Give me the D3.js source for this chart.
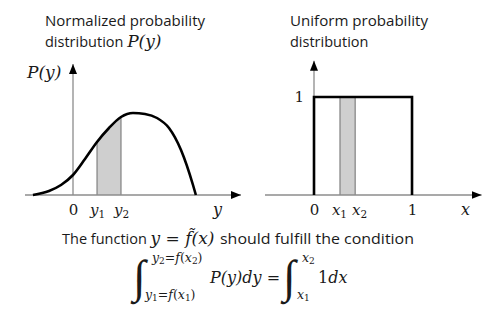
<!DOCTYPE html>
<html>
<head>
<meta charset="utf-8">
<script src="https://cdn.jsdelivr.net/npm/d3@7"></script>
<style>
body{margin:0;background:#fff}
svg{display:block}
text{font-family:"Open Sans",sans-serif;fill:#1a1a1a}
.m{font-family:"DejaVu Serif",serif;font-style:italic}
.n{font-family:"DejaVu Serif",serif;font-style:normal}
.int{font-family:"Liberation Serif",serif;font-style:normal}
</style>
</head>
<body>
<svg width="500" height="312"></svg>
<script>
// left panel: normalized probability P(y)
const curveY = [-1.67, -1, -0.5, 0, 0.5, 1, 1.5, 2, 2.5, 3, 3.5, 4, 4.5, 5, 5.12];
const curveP = [0, 0.04, 0.1, 0.2, 0.36, 0.53, 0.67, 0.78, 0.82, 0.81, 0.77, 0.67, 0.45, 0.1, 0];
const band = [1, 2];
const leftTicks = [0, 1, 2];
const leftTickNames = ["0", "y_1", "y_2"];

// right panel: uniform distribution
const uniX = [0, 0, 1, 1];
const uniP = [0, 1, 1, 0];
const strip = [0.265, 0.42];
const rightTicks = [0, 0.265, 0.42, 1];
const rightTickNames = ["0", "x_1", "x_2", "1"];

const svg = d3.select('svg');

svg.append('defs').append('marker')
  .attr('id', 'arr')
  .attr('viewBox', '0 0 10 8')
  .attr('refX', 10).attr('refY', 4)
  .attr('markerWidth', 10).attr('markerHeight', 8)
  .attr('markerUnits', 'userSpaceOnUse')
  .attr('orient', 'auto')
  .append('path').attr('d', 'M0,0L10,4L0,8Z').attr('fill', '#000');

// writes "y_1" as italic y with an upright subscript
function mathLabel(t, s, size){
  t.text(null);
  const parts = s.split('_');
  if(parts.length == 1){
    t.append('tspan').attr('class', 'n').text(parts[0]);
    return;
  }
  t.append('tspan').attr('class', 'm').text(parts[0]);
  t.append('tspan').attr('class', 'n').attr('font-size', size*0.7).attr('dy', 3).text(parts[1]);
}

// ---------- left ----------
const xL = d3.scaleLinear().domain([-2, 7]).range([25, 241]);
const pL = d3.scaleLinear().domain([0, 1.3]).range([195, 65]);
const pts = curveY.map((v, i) => [v, curveP[i]]);

svg.append('clipPath').attr('id', 'bandClip')
  .append('rect')
  .attr('x', xL(band[0])).attr('width', xL(band[1]) - xL(band[0]))
  .attr('y', 0).attr('height', 312);

const area = d3.area().x(d => xL(d[0])).y0(pL(0)).y1(d => pL(d[1])).curve(d3.curveMonotoneX);
svg.append('path').attr('d', area(pts)).attr('fill', '#cfcfcf').attr('clip-path', 'url(#bandClip)');

band.forEach(b => {
  const p = curveP[curveY.indexOf(b)];
  svg.append('line')
    .attr('x1', xL(b)).attr('x2', xL(b))
    .attr('y1', pL(0)).attr('y2', pL(p))
    .attr('stroke', '#6e6e6e').attr('stroke-width', 1);
});

svg.append('line').attr('x1', xL(-2)).attr('x2', xL(7)).attr('y1', pL(0)).attr('y2', pL(0))
  .attr('stroke', '#8c8c8c').attr('stroke-width', 1.3).attr('marker-end', 'url(#arr)');
svg.append('line').attr('x1', xL(0)).attr('x2', xL(0)).attr('y1', pL(0)).attr('y2', pL(1.31))
  .attr('stroke', '#8c8c8c').attr('stroke-width', 1.3).attr('marker-end', 'url(#arr)');

const line = d3.line().x(d => xL(d[0])).y(d => pL(d[1])).curve(d3.curveMonotoneX);
svg.append('path').attr('d', line(pts)).attr('fill', 'none')
  .attr('stroke', '#000').attr('stroke-width', 2.6).attr('stroke-linejoin', 'round');

const axL = svg.append('g').attr('transform', `translate(0,${pL(0)})`)
  .call(d3.axisBottom(xL).tickValues(leftTicks).tickSize(0).tickFormat((d, i) => leftTickNames[i]));
axL.select('.domain').remove();
axL.selectAll('text').attr('y', 20).attr('dy', 0).attr('font-size', 15)
  .each(function(d, i){ mathLabel(d3.select(this), leftTickNames[i], 15); });

svg.append('text').attr('class', 'm').attr('x', 213).attr('y', 215).attr('font-size', 16).text('y');
svg.append('text').attr('class', 'm').attr('x', 27).attr('y', 78).attr('font-size', 17).text('P(y)');

svg.append('text').attr('x', 45).attr('y', 26).attr('font-size', 14.5)
  .attr('textLength', 160).attr('lengthAdjust', 'spacingAndGlyphs').text('Normalized probability');
const t2 = svg.append('text').attr('x', 45).attr('y', 47).attr('font-size', 14.5);
t2.append('tspan').text('distribution ');
t2.append('tspan').attr('class', 'm').attr('font-size', 17).text('P(y)');

// ---------- right ----------
const xR = d3.scaleLinear().domain([-0.5, 1.71]).range([265, 481.6]);
const pR = d3.scaleLinear().domain([0, 1.36]).range([195, 61.7]);

svg.append('rect')
  .attr('x', xR(strip[0])).attr('width', xR(strip[1]) - xR(strip[0]))
  .attr('y', pR(1)).attr('height', pR(0) - pR(1))
  .attr('fill', '#cfcfcf');
strip.forEach(s => {
  svg.append('line').attr('x1', xR(s)).attr('x2', xR(s)).attr('y1', pR(0)).attr('y2', pR(1))
    .attr('stroke', '#6e6e6e').attr('stroke-width', 1);
});

svg.append('line').attr('x1', xR(-0.5)).attr('x2', xR(1.71)).attr('y1', pR(0)).attr('y2', pR(0))
  .attr('stroke', '#8c8c8c').attr('stroke-width', 1.3).attr('marker-end', 'url(#arr)');
svg.append('line').attr('x1', xR(0)).attr('x2', xR(0)).attr('y1', pR(0)).attr('y2', pR(1.37))
  .attr('stroke', '#8c8c8c').attr('stroke-width', 1.3).attr('marker-end', 'url(#arr)');

const uni = d3.line().x((d, i) => xR(uniX[i])).y((d, i) => pR(uniP[i]));
svg.append('path').attr('d', uni(uniX)).attr('fill', 'none')
  .attr('stroke', '#000').attr('stroke-width', 2.6).attr('stroke-linejoin', 'miter');

const axR = svg.append('g').attr('transform', `translate(0,${pR(0)})`)
  .call(d3.axisBottom(xR).tickValues(rightTicks).tickSize(0).tickFormat((d, i) => rightTickNames[i]));
axR.select('.domain').remove();
axR.selectAll('text').attr('y', 20).attr('dy', 0).attr('font-size', 15)
  .attr('dx', (d, i) => i == 1 ? -1 : i == 2 ? 4 : 0)
  .each(function(d, i){ mathLabel(d3.select(this), rightTickNames[i], 15); });

const ayR = svg.append('g').attr('transform', `translate(${xR(0)},0)`)
  .call(d3.axisLeft(pR).tickValues([1]).tickSize(0).tickPadding(10).tickFormat(d => '1'));
ayR.select('.domain').remove();
ayR.selectAll('text').attr('class', 'n').attr('font-size', 15).attr('dy', 5);

svg.append('text').attr('class', 'm').attr('x', 461).attr('y', 215).attr('font-size', 16).text('x');

svg.append('text').attr('x', 290).attr('y', 26).attr('font-size', 14.5)
  .attr('textLength', 138).attr('lengthAdjust', 'spacingAndGlyphs').text('Uniform probability');
svg.append('text').attr('x', 290).attr('y', 47).attr('font-size', 14.5).text('distribution');

// ---------- condition ----------
const c1 = svg.append('text').attr('x', 62).attr('y', 244).attr('font-size', 14.5);
c1.append('tspan').text('The function ');
c1.append('tspan').attr('class', 'm').attr('font-size', 17).text('y');
c1.append('tspan').attr('class', 'n').attr('font-size', 17).text(' = ');
c1.append('tspan').attr('class', 'm').attr('font-size', 17).text('f\u0303');
c1.append('tspan').attr('class', 'm').attr('font-size', 17).text('(x)');
svg.append('text').attr('x', 220).attr('y', 244).attr('font-size', 14.5)
  .attr('textLength', 194).attr('lengthAdjust', 'spacingAndGlyphs').text('should fulfill the condition');

function integral(x, lo, hi, loX, hiX){
  svg.append('text').attr('class', 'int').attr('x', x).attr('y', 292)
    .attr('font-size', 46).text('\u222B');
  const h = svg.append('text').attr('x', hiX).attr('y', 262).attr('font-size', 12.5);
  hi.forEach(p => h.append('tspan').attr('class', p[1]).attr('font-size', p[2] || 12.5).attr('dy', p[3] || 0).text(p[0]));
  const l = svg.append('text').attr('x', loX).attr('y', 299).attr('font-size', 12.5);
  lo.forEach(p => l.append('tspan').attr('class', p[1]).attr('font-size', p[2] || 12.5).attr('dy', p[3] || 0).text(p[0]));
}
integral(133,
  [['y', 'm'], ['1', 'n', 9, 2], ['=', 'n', 12.5, -2], ['f', 'm'], ['(', 'n'], ['x', 'm'], ['1', 'n', 9, 2], [')', 'n', 12.5, -2]],
  [['y', 'm'], ['2', 'n', 9, 2], ['=', 'n', 12.5, -2], ['f', 'm'], ['(', 'n'], ['x', 'm'], ['2', 'n', 9, 2], [')', 'n', 12.5, -2]],
  145, 152);
const c2 = svg.append('text').attr('x', 210).attr('y', 283).attr('font-size', 16);
c2.append('tspan').attr('class', 'm').text('P(y)dy');
c2.append('tspan').attr('class', 'n').text(' = ');
integral(283,
  [['x', 'm'], ['1', 'n', 9, 2]],
  [['x', 'm'], ['2', 'n', 9, 2]],
  297, 302);
const c3 = svg.append('text').attr('x', 318).attr('y', 283).attr('font-size', 16);
c3.append('tspan').attr('class', 'n').text('1');
c3.append('tspan').attr('class', 'm').text('dx');
</script>
</body>
</html>
